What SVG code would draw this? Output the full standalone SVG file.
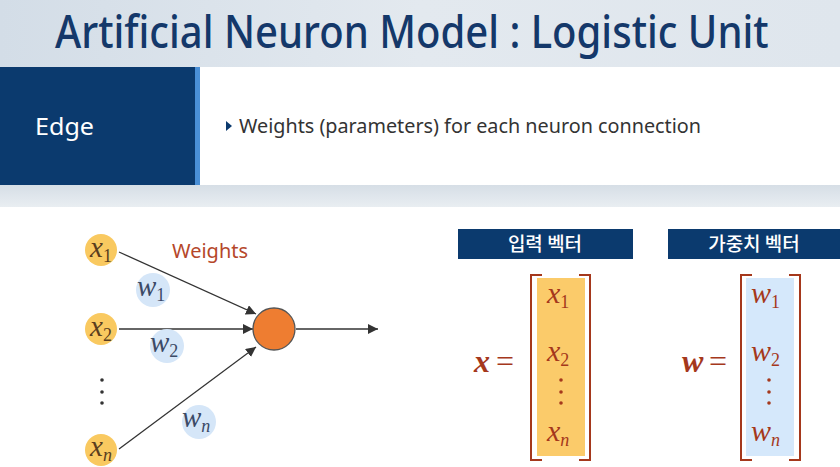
<svg xmlns="http://www.w3.org/2000/svg" width="840" height="467" viewBox="0 0 840 467">
<defs>
<linearGradient id="hdr" x1="0" y1="0" x2="1" y2="0">
<stop offset="0" stop-color="#d3dde7"/>
<stop offset="0.5" stop-color="#e3e9ef"/>
<stop offset="1" stop-color="#dfe6ed"/>
</linearGradient>
<linearGradient id="band" x1="0" y1="0" x2="0" y2="1">
<stop offset="0" stop-color="#d6dee6"/>
<stop offset="1" stop-color="#e9eef2"/>
</linearGradient>
<marker id="ah" viewBox="0 0 10 10" refX="10" refY="5" markerWidth="10" markerHeight="10" markerUnits="userSpaceOnUse" orient="auto">
<path d="M0,0 L10,5 L0,10 z" fill="#333"/>
</marker>
<style>
.in{fill:#f9c960}
.wc{fill:#d5e6f8}
.lbl{font-family:"Liberation Serif",serif;font-style:italic;font-size:29px;fill:#5a3d1e}
.wl{font-family:"Liberation Serif",serif;font-style:italic;font-size:29px;fill:#3b4a66}
.sub{font-size:18px;font-style:normal}
.subn{font-size:18px}
.m{font-family:"Liberation Serif",serif;font-style:italic;font-size:30px;fill:#a5381c}
.br{fill:none;stroke:#a5381c;stroke-width:2}
.edge{stroke:#333;stroke-width:1.3;fill:none;marker-end:url(#ah)}
.kh{fill:#0b3a6e}
.kt{font-family:"Noto Sans CJK KR","Noto Sans",sans-serif;font-size:19px;font-weight:500;fill:#fff;text-anchor:middle}
.dot{fill:#333}
.mdot{fill:#a5381c}
</style>
</defs>
<rect x="0" y="0" width="840" height="467" fill="#fff"/>
<g id="header">
<rect x="0" y="0" width="840" height="67" fill="url(#hdr)"/>
<text transform="translate(55,48) scale(0.89,1)" x="0" y="0" font-family="Noto Sans, sans-serif" font-weight="500" font-size="45" fill="#14386a">Artificial Neuron Model : Logistic Unit</text>
</g>
<g id="edge-box">
<rect x="0" y="67" width="196" height="118" fill="#0b3a6e"/>
<rect x="195" y="67" width="5" height="118" fill="#4a8fd6"/>
<rect x="200" y="67" width="640" height="118" fill="#fff"/>
<text x="35" y="135" font-family="Noto Sans, sans-serif" font-size="24" fill="#fff" textLength="59" lengthAdjust="spacingAndGlyphs">Edge</text>
<path d="M226,121 L232,126 L226,131 z" fill="#0b3a6e"/>
<text x="239" y="133" font-family="Noto Sans, sans-serif" font-size="20" fill="#333" textLength="462" lengthAdjust="spacingAndGlyphs">Weights (parameters) for each neuron connection</text>
<rect x="0" y="185" width="840" height="22" fill="url(#band)"/>
</g>
<g id="connectors">
<line class="edge" x1="119" y1="252" x2="256" y2="314"/>
<line class="edge" x1="119" y1="329" x2="253" y2="329"/>
<line class="edge" x1="119" y1="449" x2="256" y2="347"/>
<line class="edge" x1="296" y1="329" x2="378" y2="329"/>
</g>
<g id="x1"><circle class="in" cx="101" cy="250" r="16"/><text class="lbl" x="90" y="257">x<tspan class="sub" dy="5">1</tspan></text></g>
<g id="x2"><circle class="in" cx="101" cy="329" r="16"/><text class="lbl" x="90" y="336">x<tspan class="sub" dy="5">2</tspan></text></g>
<g id="vdots"><circle class="dot" cx="102" cy="380" r="1.8"/><circle class="dot" cx="102" cy="392" r="1.8"/><circle class="dot" cx="102" cy="403" r="1.8"/></g>
<g id="xn"><circle class="in" cx="101" cy="450" r="16"/><text class="lbl" x="90" y="456">x<tspan class="subn" dy="5">n</tspan></text></g>
<g id="weights-label"><text x="172" y="258" font-family="Noto Sans, sans-serif" font-size="19" fill="#b5472a" textLength="76" lengthAdjust="spacingAndGlyphs">Weights</text></g>
<g id="w1"><circle class="wc" cx="153" cy="290" r="17"/><text class="wl" x="137" y="296">w<tspan class="sub" dy="5">1</tspan></text></g>
<g id="w2"><circle class="wc" cx="167" cy="346" r="17"/><text class="wl" x="150" y="352">w<tspan class="sub" dy="5">2</tspan></text></g>
<g id="wn"><circle class="wc" cx="199" cy="422" r="17"/><text class="wl" x="182" y="427">w<tspan class="subn" dy="5">n</tspan></text></g>
<g id="neuron"><circle cx="274" cy="329" r="21" fill="#ee7d31" stroke="#555" stroke-width="1.3"/></g>
<g id="input-vector">
<rect class="kh" x="458" y="229" width="175" height="30"/>
<text class="kt" x="545" y="251">입력 벡터</text>
<text x="474" y="372" font-family="Liberation Serif, serif" font-style="italic" font-weight="bold" font-size="32" fill="#a5381c">x</text>
<text x="496" y="372" font-family="Liberation Serif, serif" font-size="32" fill="#a5381c">=</text>
<rect x="537" y="278" width="48" height="178" fill="#fbcb6a"/>
<path class="br" d="M542,275 L531,275 L531,460 L542,460"/>
<path class="br" d="M579,275 L590,275 L590,460 L579,460"/>
<text class="m" x="547" y="303">x<tspan class="sub" dy="5">1</tspan></text>
<text class="m" x="547" y="361">x<tspan class="sub" dy="5">2</tspan></text>
<circle class="mdot" cx="561" cy="380" r="1.8"/><circle class="mdot" cx="561" cy="392" r="1.8"/><circle class="mdot" cx="561" cy="403" r="1.8"/>
<text class="m" x="547" y="441">x<tspan class="subn" dy="5">n</tspan></text>
</g>
<g id="weight-vector">
<rect class="kh" x="668" y="229" width="172" height="30"/>
<text class="kt" x="754" y="251">가중치 벡터</text>
<text x="682" y="372" font-family="Liberation Serif, serif" font-style="italic" font-weight="bold" font-size="32" fill="#a5381c">w</text>
<text x="709" y="372" font-family="Liberation Serif, serif" font-size="32" fill="#a5381c">=</text>
<rect x="746" y="278" width="48" height="178" fill="#d5e8fb"/>
<path class="br" d="M752,275 L741,275 L741,460 L752,460"/>
<path class="br" d="M789,275 L800,275 L800,460 L789,460"/>
<text class="m" x="751" y="303">w<tspan class="sub" dy="5">1</tspan></text>
<text class="m" x="751" y="361">w<tspan class="sub" dy="5">2</tspan></text>
<circle class="mdot" cx="769" cy="380" r="1.8"/><circle class="mdot" cx="769" cy="392" r="1.8"/><circle class="mdot" cx="769" cy="403" r="1.8"/>
<text class="m" x="751" y="441">w<tspan class="subn" dy="5">n</tspan></text>
</g>
</svg>
